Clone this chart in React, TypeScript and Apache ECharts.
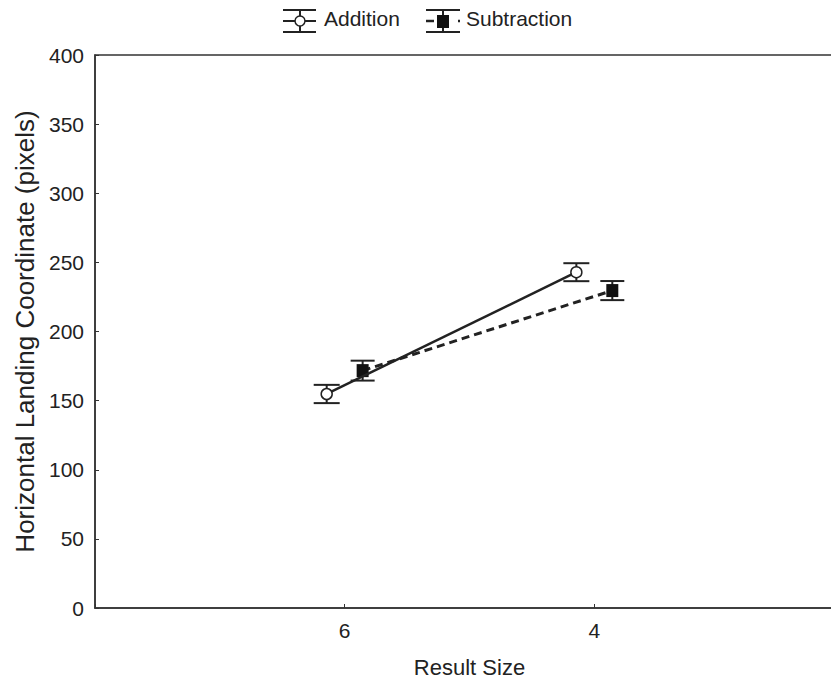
import React, { useEffect, useRef } from "react";
import * as echarts from "echarts";

const xLabels = ["6", "4"];
const seriesNames = ["Addition", "Subtraction"];
const additionMean = [154.8, 242.9];
const additionErr = [6.6, 6.5];
const subtractionMean = [171.7, 229.6];
const subtractionErr = [7.2, 6.9];
const yTitle = "Horizontal Landing Coordinate (pixels)";
const xTitle = "Result Size";

const OFFSET = 0.072;
const INK = "#222";
const FONT = "'Liberation Sans', Arial, sans-serif";

function points(means: number[], off: number) {
  return means.map((m, i) => [i + 1 + off, m]);
}
function errs(means: number[], e: number[], off: number) {
  return means.map((m, i) => [i + 1 + off, m - e[i], m + e[i]]);
}

function errRender(half: number) {
  return (params: any, api: any) => {
    const x = api.value(0);
    const lo = api.coord([x, api.value(1)]);
    const hi = api.coord([x, api.value(2)]);
    const st = { stroke: INK, lineWidth: 2 };
    return {
      type: "group",
      children: [
        { type: "line", shape: { x1: lo[0], y1: lo[1], x2: hi[0], y2: hi[1] }, style: st },
        { type: "line", shape: { x1: lo[0] - half, y1: lo[1], x2: lo[0] + half, y2: lo[1] }, style: st },
        { type: "line", shape: { x1: hi[0] - half, y1: hi[1], x2: hi[0] + half, y2: hi[1] }, style: st },
      ],
    };
  };
}

export default function App() {
  const ref = useRef<HTMLDivElement>(null);
  useEffect(() => {
    const chart = echarts.init(ref.current!, null, { renderer: "svg" });
    const lineSt = { stroke: INK, lineWidth: 2 };
    chart.setOption({
      animation: false,
      textStyle: { fontFamily: FONT },
      grid: {
        show: true,
        left: 95,
        top: 55,
        width: 749,
        bottom: 76,
        containLabel: false,
        outerBoundsMode: "none",
        borderColor: "#333",
        borderWidth: 1.5,
      },
      xAxis: {
        type: "value",
        min: 0,
        max: 3,
        interval: 1,
        name: xTitle,
        nameLocation: "middle",
        nameGap: 48,
        nameTextStyle: { fontSize: 22, color: INK, fontFamily: FONT },
        axisLine: { show: true, lineStyle: { color: "#333", width: 1.5 } },
        axisTick: { show: true, inside: true, length: 4, lineStyle: { color: "#333" } },
        splitLine: { show: false },
        axisLabel: {
          fontSize: 21,
          color: INK,
          margin: 12,
          fontFamily: FONT,
          formatter: (v: number) => xLabels[v - 1] ?? "",
        },
      },
      yAxis: {
        type: "value",
        min: 0,
        max: 400,
        interval: 50,
        name: yTitle,
        nameLocation: "middle",
        nameGap: 55,
        nameTextStyle: { fontSize: 26, color: INK, fontFamily: FONT },
        axisLine: { show: true, lineStyle: { color: "#333", width: 1.5 } },
        axisTick: { show: true, inside: true, length: 4, lineStyle: { color: "#333" } },
        splitLine: { show: false },
        axisLabel: { fontSize: 21, color: INK, margin: 11, fontFamily: FONT },
      },
      graphic: [
        // Addition legend icon
        { type: "line", shape: { x1: 283, y1: 10, x2: 316, y2: 10 }, style: lineSt },
        { type: "line", shape: { x1: 283, y1: 32, x2: 316, y2: 32 }, style: lineSt },
        { type: "line", shape: { x1: 300, y1: 10, x2: 300, y2: 32 }, style: lineSt },
        { type: "line", shape: { x1: 283, y1: 21, x2: 316, y2: 21 }, style: lineSt },
        { type: "circle", shape: { cx: 300, cy: 21, r: 5 }, style: { fill: "#fff", stroke: INK, lineWidth: 1.5 } },
        { type: "text", left: 324, top: 8, style: { text: seriesNames[0], fontSize: 21, fill: INK, fontFamily: FONT } },
        // Subtraction legend icon
        { type: "line", shape: { x1: 426, y1: 10, x2: 460, y2: 10 }, style: lineSt },
        { type: "line", shape: { x1: 426, y1: 32, x2: 460, y2: 32 }, style: lineSt },
        { type: "line", shape: { x1: 443, y1: 10, x2: 443, y2: 32 }, style: lineSt },
        { type: "line", shape: { x1: 426, y1: 21, x2: 434, y2: 21 }, style: { stroke: INK, lineWidth: 2.5 } },
        { type: "line", shape: { x1: 458, y1: 21, x2: 460, y2: 21 }, style: { stroke: INK, lineWidth: 2.5 } },
        { type: "rect", shape: { x: 437, y: 15, width: 12, height: 13 }, style: { fill: "#111" } },
        { type: "text", left: 466, top: 8, style: { text: seriesNames[1], fontSize: 21, fill: INK, fontFamily: FONT } },
      ],
      series: [
        {
          type: "custom",
          name: seriesNames[0] + " error",
          z: 1,
          renderItem: errRender(13),
          encode: { x: 0, y: [1, 2] },
          data: errs(additionMean, additionErr, -OFFSET),
        },
        {
          type: "custom",
          name: seriesNames[1] + " error",
          z: 1,
          renderItem: errRender(12),
          encode: { x: 0, y: [1, 2] },
          data: errs(subtractionMean, subtractionErr, OFFSET),
        },
        {
          type: "line",
          name: seriesNames[1],
          z: 3,
          data: points(subtractionMean, OFFSET),
          symbol: "rect",
          symbolSize: [12, 13],
          itemStyle: { color: "#111" },
          lineStyle: { color: INK, width: 3, type: [8, 5] },
        },
        {
          type: "line",
          name: seriesNames[0],
          z: 4,
          data: points(additionMean, -OFFSET),
          symbol: "circle",
          symbolSize: 11,
          itemStyle: { color: "#fff", borderColor: INK, borderWidth: 1.5 },
          lineStyle: { color: INK, width: 2.5 },
        },
      ],
    });
    return () => chart.dispose();
  }, []);
  return (
    <div
      ref={ref}
      style={{ position: "fixed", left: 0, top: 0, width: 831, height: 684, background: "#fff" }}
    />
  );
}
